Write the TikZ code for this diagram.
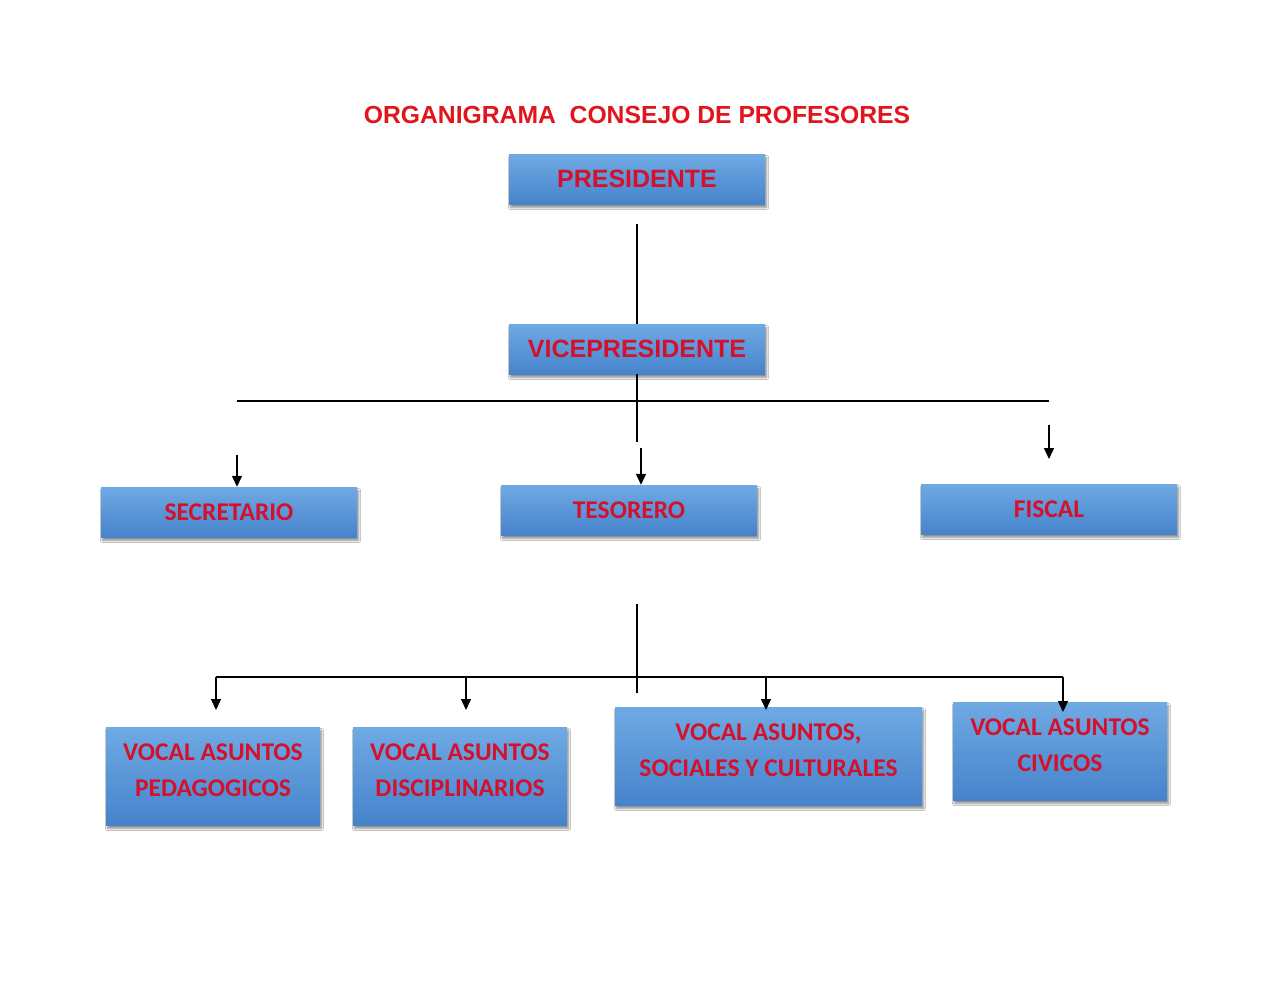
\documentclass[tikz,border=0pt]{standalone}
\usepackage{fontspec}
\setmainfont{Liberation Sans}
\newfontfamily\calib{Carlito}
\usetikzlibrary{arrows.meta,shadows.blur}
\definecolor{boxtop}{HTML}{6FAAE4}
\definecolor{boxbot}{HTML}{4683CB}
\definecolor{txtred}{HTML}{D5102A}
\definecolor{titred}{HTML}{E2141C}
\begin{document}
\begin{tikzpicture}[x=1pt,y=-1pt,
  box/.style={rectangle, inner sep=0pt, top color=boxtop, bottom color=boxbot, draw=none,
    blur shadow={shadow xshift=1.5pt, shadow yshift=-3.5pt, shadow blur steps=6, shadow opacity=45},
    text=txtred, align=center},
  topbox/.style={box, minimum width=256pt, minimum height=50pt, font=\fontsize{25}{29}\selectfont\bfseries},
  midbox/.style={box, minimum width=256pt, minimum height=50pt, font=\calib\fontsize{25.5}{29}\selectfont\bfseries},
  vocbox/.style={box, minimum height=98pt, text depth=12pt, font=\calib\fontsize{25.5}{36}\selectfont\bfseries},
  ln/.style={line width=1.3pt, black},
  arr/.style={ln, -{Triangle[width=10pt,length=11pt]}}]
\useasboundingbox (0,0) rectangle (1275,985);
\fill[white] (0,0) rectangle (1275,985);

\node[text=titred, font=\fontsize{24.7}{28}\selectfont\bfseries] (title) at (637,115) {ORGANIGRAMA\ \ CONSEJO DE PROFESORES};

\node[topbox] (pres) at (637,179) {PRESIDENTE};
\node[topbox] (vice) at (637,349) {VICEPRESIDENTE};

\node[midbox] (sec) at (229,512) {SECRETARIO};
\node[midbox] (tes) at (629,510) {TESORERO};
\node[midbox] (fis) at (1049,509) {FISCAL};

\node[vocbox, minimum width=214pt] (ped) at (213,776) {VOCAL ASUNTOS\\PEDAGOGICOS};
\node[vocbox, minimum width=214pt] (dis) at (460,776) {VOCAL ASUNTOS\\DISCIPLINARIOS};
\node[vocbox, minimum width=307pt] (soc) at (768.5,756) {VOCAL ASUNTOS,\\SOCIALES Y CULTURALES};
\node[vocbox, minimum width=214pt] (civ) at (1060,751) {VOCAL ASUNTOS\\CIVICOS};

% upper connectors
\coordinate (p1) at (637,224);
\draw[ln] (p1) -- (vice.north);
\coordinate (v2) at (637,442);
\draw[ln] (vice.south) -- (v2);
\coordinate (hl) at (237,401);
\coordinate (hr) at (1049,401);
\draw[ln] (hl) -- (hr);

\coordinate (as) at (237,455);
\draw[arr] (as) -- (as |- sec.north);
\coordinate (at) at (641,448);
\draw[arr] (at) -- (at |- tes.north);
\coordinate (af) at (1049,425);
\coordinate (afe) at (1049,459);
\draw[arr] (af) -- (afe);

% lower connectors
\coordinate (l1) at (637,604);
\coordinate (l2) at (637,693);
\draw[ln] (l1) -- (l2);
\coordinate (ll) at (216,677);
\coordinate (lr) at (1063,677);
\draw[ln] (ll) -- (lr);

\coordinate (e1) at (216,710);
\coordinate (e2) at (466,710);
\coordinate (e3) at (766,710);
\coordinate (e4) at (1063,712);
\draw[arr] (ll) -- (e1);
\draw[arr] (466,677) -- (e2);
\draw[arr] (766,677) -- (e3);
\draw[arr] (lr) -- (e4);
\end{tikzpicture}
\end{document}
